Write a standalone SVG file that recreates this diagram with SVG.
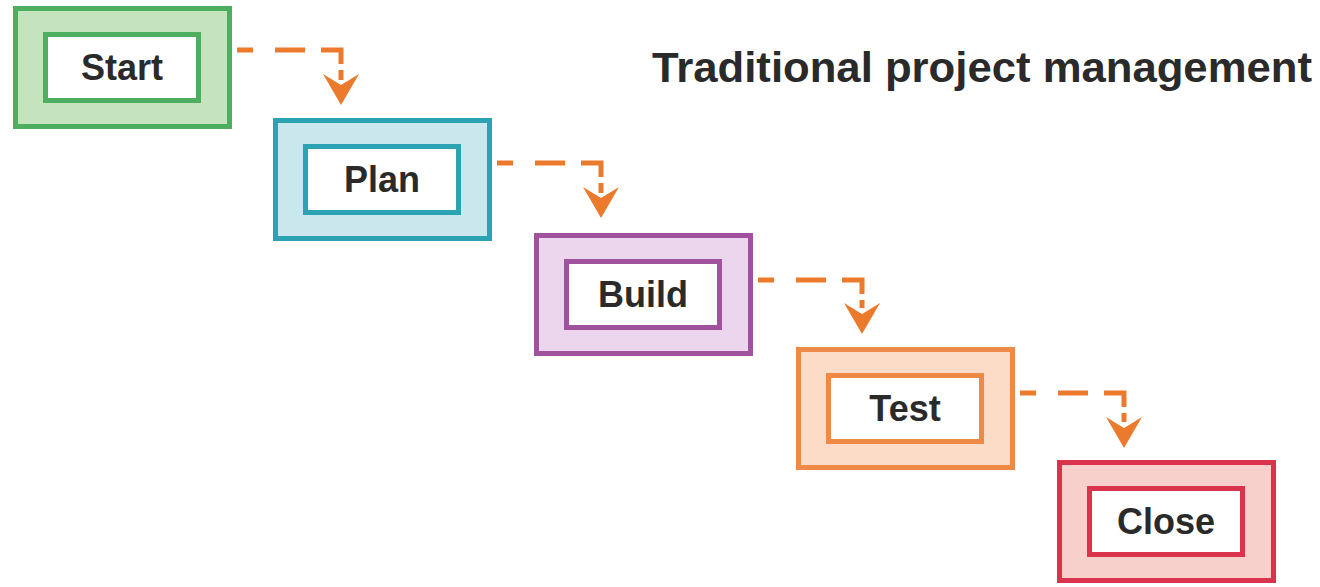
<svg xmlns="http://www.w3.org/2000/svg" width="1320" height="587" viewBox="0 0 1320 587">
<style>
.o{stroke-width:5}
.i{fill:#fff;stroke-width:5}
.lbl{font-family:"Liberation Sans",Arial,sans-serif;font-weight:bold;font-size:36px;fill:#2a2a2a;text-anchor:middle}
.title{font-family:"Liberation Sans",Arial,sans-serif;font-weight:bold;font-size:42px;fill:#2a2a2a}
.c{fill:none;stroke:#ec7a2c;stroke-width:5;stroke-dasharray:16 22 30 16 34 6 60}
.ah{fill:#ec7a2c}
</style>
<rect width="1320" height="587" fill="#fff"/>
<text class="title" x="652" y="82" textLength="660" lengthAdjust="spacingAndGlyphs">Traditional project management</text>
<g id="start">
<rect class="o" x="15.5" y="8.5" width="214" height="118" fill="#c5e3bd" stroke="#4cae5e"/>
<rect class="i" x="45.5" y="34.5" width="153" height="66" stroke="#4cae5e"/>
<text class="lbl" x="122" y="80">Start</text>
</g>
<g id="plan">
<rect class="o" x="275.5" y="120.5" width="214" height="118" fill="#c9e7ec" stroke="#2ba3b3"/>
<rect class="i" x="305.5" y="146.5" width="153" height="66" stroke="#2ba3b3"/>
<text class="lbl" x="382" y="192">Plan</text>
</g>
<g id="build">
<rect class="o" x="536.5" y="235.5" width="214" height="118" fill="#ecd6ee" stroke="#a0529f"/>
<rect class="i" x="566.5" y="261.5" width="153" height="66" stroke="#a0529f"/>
<text class="lbl" x="643" y="307">Build</text>
</g>
<g id="test">
<rect class="o" x="798.5" y="349.5" width="214" height="118" fill="#fcdcc6" stroke="#ee8a45"/>
<rect class="i" x="828.5" y="375.5" width="153" height="66" stroke="#ee8a45"/>
<text class="lbl" x="905" y="421">Test</text>
</g>
<g id="close">
<rect class="o" x="1059.5" y="462.5" width="214" height="118" fill="#f7cfcb" stroke="#d9344b"/>
<rect class="i" x="1089.5" y="488.5" width="153" height="66" stroke="#d9344b"/>
<text class="lbl" x="1166" y="534">Close</text>
</g>
<g id="connectors">
<path class="c" d="M237 50 H341 V80"/>
<polygon class="ah" points="341,105 323,74 341,85 359,74"/>
<path class="c" d="M497 163 H601 V193"/>
<polygon class="ah" points="601,218 583,187 601,198 619,187"/>
<path class="c" d="M758 280 H862 V308"/>
<polygon class="ah" points="862,334 844,303 862,314 880,303"/>
<path class="c" d="M1020 393 H1124 V422"/>
<polygon class="ah" points="1124,448 1106,417 1124,428 1142,417"/>
</g>
</svg>
